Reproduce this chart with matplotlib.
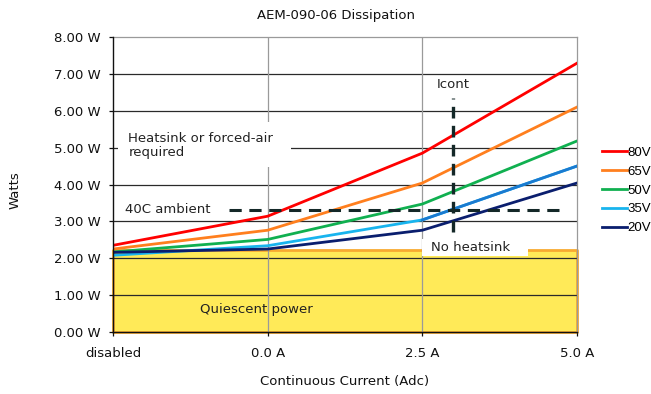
import matplotlib.pyplot as plt
from matplotlib.patches import Rectangle
import numpy as np

# data
categories = ["disabled", "0.0 A", "2.5 A", "5.0 A"]
series_labels = ["80V", "65V", "50V", "35V", "20V"]
watts_80v = [2.35, 3.14, 4.85, 7.29]
watts_65v = [2.25, 2.76, 4.04, 6.10]
watts_50v = [2.17, 2.51, 3.47, 5.18]
watts_35v = [2.08, 2.34, 3.04, 4.50]
watts_20v = [2.16, 2.25, 2.76, 4.04]
quiescent = [2.22, 2.22, 2.22, 2.22]
ambient_w = 3.3
icont_amps = 3.0
yticks = [0, 1, 2, 3, 4, 5, 6, 7, 8]

colors = ["#ff0000", "#ff7f1e", "#10b050", "#18b4ee", "#0a1e6e"]
fs = 9.5

plt.rcParams['font.family'] = ['DejaVu Sans']
fig = plt.figure(figsize=(6.51, 3.94), dpi=100)
ax = fig.add_axes([113 / 651, 62 / 394, 464 / 651, 295 / 394])
x = np.arange(len(categories))

# quiescent power area
ax.fill_between(x, 0, quiescent, facecolor="#ffea58", edgecolor="#f8aa30",
                linewidth=2, zorder=1, clip_on=False)

# grid
for v in yticks[1:-1]:
    ax.axhline(v, color="#2a2a2a", linewidth=0.9, zorder=2)
for v in x[1:-1]:
    ax.axvline(v, color="#9a9a9a", linewidth=0.9, zorder=2)

all_series = [watts_80v, watts_65v, watts_50v, watts_35v, watts_20v]
for vals, lab, col in zip(all_series, series_labels, colors):
    ax.plot(x, vals, color=col, linewidth=2, label=lab, zorder=4)
# the 35V line turns a deeper blue on its last stretch
ax.plot(x[2:], watts_35v[2:], color="#1a7ad0", linewidth=2, zorder=4)

# 40C ambient and Icont markers
icont_pos = 2 + (icont_amps - 2.5) / 2.5
ax.plot([0.75, 2.91], [ambient_w, ambient_w], color="#142828", linewidth=2.2,
        dashes=(4, 2.5), zorder=5)
ax.plot([icont_pos, icont_pos], [2.72, 6.35], color="#142828", linewidth=2.4,
        dashes=(3.5, 2.2), zorder=5)

# label boxes
ax.add_patch(Rectangle((0.03, 4.47), 1.12, 1.22, facecolor="white",
                       edgecolor="none", zorder=5.5))
ax.text(0.1, 5.06, "Heatsink or forced-air\nrequired", fontsize=fs, color="#222222",
        va="center", ha="left", linespacing=1.15, zorder=6)
ax.text(0.08, 3.33, "40C ambient", fontsize=fs, color="#222222",
        va="center", ha="left",
        bbox=dict(facecolor="white", edgecolor="none", pad=3), zorder=6)
ax.text(icont_pos, 6.7, "Icont", fontsize=fs, color="#222222",
        va="center", ha="center", zorder=6)
ax.add_patch(Rectangle((2.0, 2.05), 0.68, 0.46, facecolor="white",
                       edgecolor="none", zorder=5.5))
ax.text(2.31, 2.28, "No heatsink", fontsize=fs, color="#222222",
        va="center", ha="center", zorder=6)
ax.text(0.56, 0.62, "Quiescent power", fontsize=fs, color="#222222",
        va="center", ha="left", zorder=6)

ax.set_xlim(0, 3)
ax.set_ylim(0, 8)
ax.set_xticks(x)
ax.set_xticklabels(categories)
ax.set_yticks(yticks)
ax.set_yticklabels([f"{v:.2f} W" for v in yticks])
ax.tick_params(axis="both", labelsize=fs, colors="#111111", length=3, width=0.9)
ax.tick_params(axis="x", pad=8)
ax.tick_params(axis="y", pad=6)

for s in ["left", "bottom"]:
    ax.spines[s].set_color("#111111")
    ax.spines[s].set_linewidth(1.0)
    ax.spines[s].set_zorder(7)
for s in ["top", "right"]:
    ax.spines[s].set_color("#9a9a9a")
    ax.spines[s].set_linewidth(0.9)

fig.text(336 / 651, 1 - 16 / 394, "AEM-090-06 Dissipation", fontsize=fs,
         va="center", ha="center", color="#111111")
fig.text(15 / 651, 1 - 190 / 394, "Watts", rotation=90, fontsize=fs,
         va="center", ha="center", color="#111111")
fig.text(345 / 651, 1 - 382 / 394, "Continuous Current (Adc)", fontsize=fs,
         va="center", ha="center", color="#111111")

fig.legend(loc="center left", bbox_to_anchor=(602 / 651, 1 - 190.5 / 394),
           frameon=False, prop={"family": "Liberation Sans", "size": 9.5},
           handlelength=1.9, handletextpad=0.05,
           borderpad=0, borderaxespad=0, labelspacing=0.5)

fig.savefig("out.png", dpi=100)
